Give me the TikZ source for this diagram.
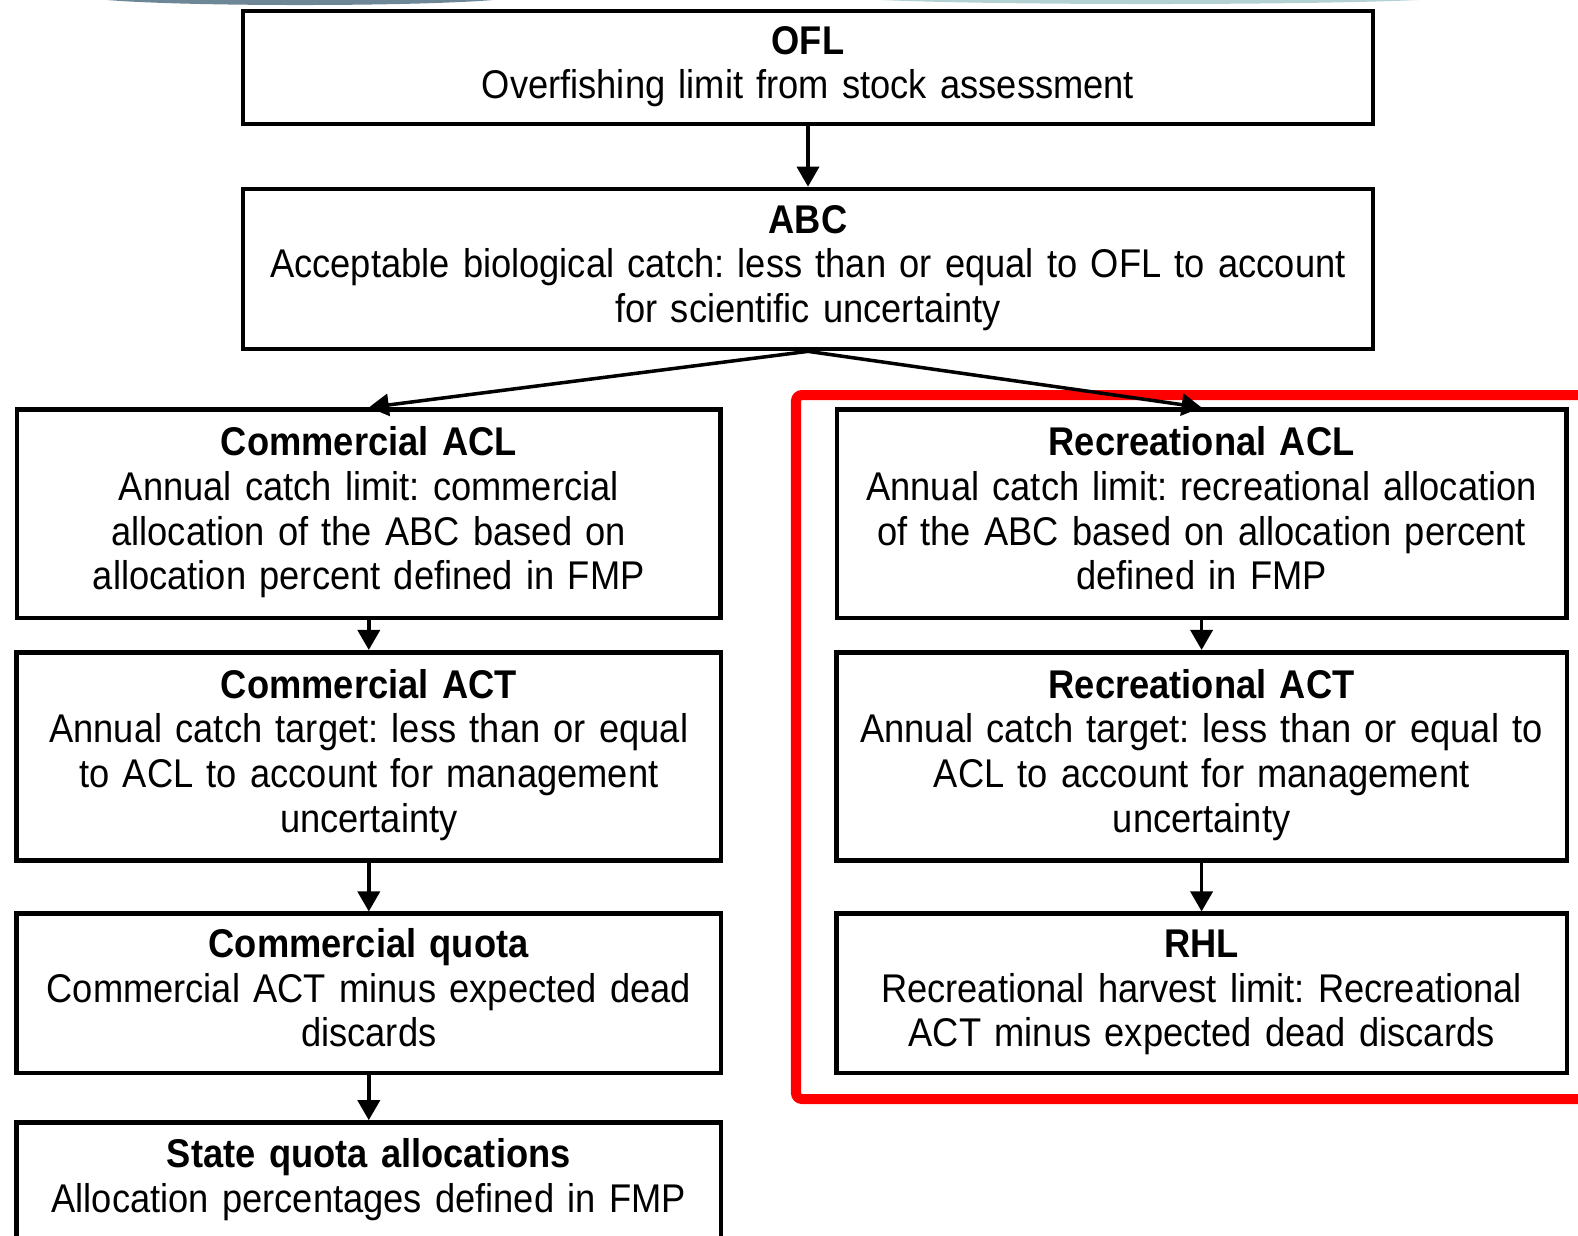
\documentclass[tikz,border=0pt]{standalone}
\usepackage{fontspec}
\setmainfont{Liberation Sans}[FakeStretch=0.905,WordSpace=0.8]
\usepackage{tikz}
\usetikzlibrary{arrows.meta}
\definecolor{slidegrey}{HTML}{6E8797}
\definecolor{slideteal}{HTML}{B3D1D3}
\definecolor{frame}{HTML}{FF0000}
\frenchspacing

\begin{document}
\begin{tikzpicture}[x=0.01cm,y=-0.01cm]
\useasboundingbox (0,0) rectangle (1578,1235);
\clip (0,0) rectangle (1578,1235);
\fill[slidegrey] (300,-4) ellipse (2.15cm and 0.09cm);
\fill[slideteal] (1150,-4) ellipse (3.1cm and 0.08cm);
\draw[frame, line width=2.85pt, rounded corners=0.06cm] (796,395) rectangle (1640,1099);

\begin{scope}[every node/.style={draw,line width=1.3pt,align=center,inner sep=0pt,
              font=\fontsize{11.4}{12.7}\selectfont,
              execute at begin node=\strut, execute at end node=\strut}]
    \node (A)[text width=11.29cm,minimum height=1.13cm] at (808,67.5)
        {\textbf{OFL}\\Overfishing limit from stock assessment};
    \node (B)[text width=11.29cm,minimum height=1.60cm] at (808,269)
        {\textbf{ABC}\\Acceptable biological catch: less than or equal to OFL to account\\for scientific uncertainty};
    \node (C)[text width=7.03cm,minimum height=2.08cm] at (368.8,513.8)
        {\textbf{Commercial ACL}\\Annual catch limit: commercial\\allocation of the ABC based on\\allocation percent defined in FMP};
    \node (D)[text width=7.29cm,minimum height=2.08cm] at (1201.6,513.8)
        {\textbf{Recreational ACL}\\Annual catch limit: recreational allocation\\of the ABC based on allocation percent\\defined in FMP};
    \node (E)[text width=7.04cm,minimum height=2.08cm] at (368.8,756.3)
        {\textbf{Commercial ACT}\\Annual catch target: less than or equal\\to ACL to account for management\\uncertainty};
    \node (F)[text width=7.30cm,minimum height=2.08cm] at (1201.6,756.3)
        {\textbf{Recreational ACT}\\Annual catch target: less than or equal to\\ACL to account for management\\uncertainty};
    \node (G)[text width=7.04cm,minimum height=1.59cm] at (368.8,993.3)
        {\textbf{Commercial quota}\\Commercial ACT minus expected dead\\discards};
    \node (H)[text width=7.30cm,minimum height=1.59cm] at (1201.6,993.3)
        {\textbf{RHL}\\Recreational harvest limit: Recreational\\ACT minus expected dead discards};
    \node (I)[text width=7.04cm,minimum height=1.17cm] at (368.8,1181)
        {\textbf{State quota allocations}\\Allocation percentages defined in FMP};
\end{scope}

\begin{scope}[every edge/.style={draw=black,line width=1pt,
              -{Triangle[length=0.2cm,width=0.22cm]}}]
    \path  (A) edge (B);
    \path  (B.south) edge (C.north);
    \path  (B.south) edge (D.north);
    \path  (C) edge (E);
    \path  (E) edge (G);
    \path  (G) edge (I);
    \path  (D) edge (F);
    \path  (F) edge (H);
\end{scope}
\end{tikzpicture}
\end{document}
